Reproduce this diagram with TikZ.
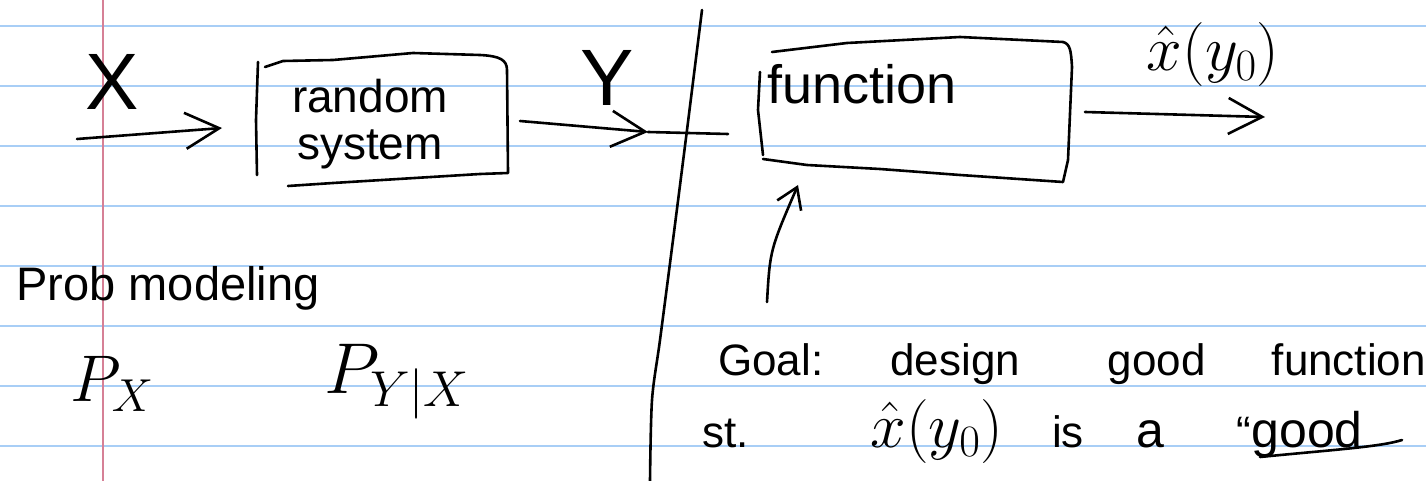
\RequirePackage{fix-cm}
\documentclass[tikz,border=0pt]{standalone}
\usepackage{fontspec}
\setmainfont{Liberation Sans}
\usetikzlibrary{arrows.meta,calc}
\definecolor{ruled}{RGB}{168,206,246}
\definecolor{marginline}{RGB}{214,128,150}
\tikzset{
  ink/.style={line width=2.6pt, line cap=round, line join=round, black},
  harrow/.style={ink, -{Straight Barb[length=34pt,width=36pt]}},
  smallarrow/.style={ink, -{Straight Barb[length=20pt,width=26pt]}},
  boxarea/.style={draw=none, inner sep=0pt, outer sep=0pt, rectangle},
}
\begin{document}
\begin{tikzpicture}[x=1pt,y={(0pt,-1pt)}]
\fill[white] (0,0) rectangle (1426,481);
\useasboundingbox (0,0) rectangle (1426,481);
% ruled paper
\foreach \yy in {26,86,...,446} \draw[ruled, line width=2pt] (0,\yy) -- (1426,\yy);
\draw[marginline, line width=2pt] (103,0) -- (103,481);

% box areas
\node[boxarea, minimum width=250pt, minimum height=120pt] (rsbox) at (382,118) {};
\node[boxarea, minimum width=310pt, minimum height=140pt] (fnbox) at (915,111) {};

% hand-drawn outlines
\draw[ink] (258,62) -- (256,120) -- (257,175);
\draw[ink] (265,67) -- (283,61) -- (333,60) -- (413,53) -- (480,55)
  .. controls (500,56) and (507,60) .. (507,70) -- (508,173) -- (480,174) -- (333,183) -- (288,186);
\draw[ink] (760,72) -- (758,110) -- (763,155);
\draw[ink] (772,52) -- (847,43) -- (960,37) -- (1063,42)
  .. controls (1070,44) and (1071,50) .. (1072,67) -- (1068,160) -- (1063,182)
  -- (960,175) -- (880,169) -- (807,165) -- (763,159);

% divider
\draw[ink] plot[smooth] coordinates {(702,10) (687,130) (673,240) (660,340) (652,400) (650,481)};

% texts
\node[font=\fontsize{80}{80}\selectfont] (xlab) at (112,82) {X};
\node[font=\fontsize{46}{47}\selectfont, align=center] (rs) at (370,124) {random\\system};
\node[font=\fontsize{80}{80}\selectfont] (ylab) at (607,78) {Y};
\node[font=\fontsize{54}{54}\selectfont] (fn) at (862,84) {function};
\node[font=\fontsize{64}{64}\selectfont] (xhat) at (1213,55) {$\hat{x}(y_0)$};
\node[font=\fontsize{47}{47}\selectfont, anchor=base west] (prob) at (13,300) {Prob modeling};
\node[font=\fontsize{66}{66}\selectfont] (px) at (112,384) {$P_X$};
\node[font=\fontsize{72}{72}\selectfont] (pyx) at (397,382) {$P_{Y|X}$};
\node[font=\fontsize{44}{44}\selectfont, anchor=base west, inner sep=0pt] (goal) at (718,375)
  {Goal:\hspace{67pt}design\hspace{88pt}good\hspace{66pt}function};
\node[font=\fontsize{44}{44}\selectfont, anchor=base west, inner sep=0pt] (st) at (702,447)
  {st.\hspace{122pt}{\fontsize{64}{64}\selectfont$\hat{x}(y_0)$}\hspace{49pt}is\hspace{53pt}{\fontsize{50}{50}\selectfont a}\hspace{72pt}“{\fontsize{50}{50}\selectfont good}};
\draw[ink] (1260,457) .. controls (1330,450) and (1380,447) .. (1402,440);

% connectors
\coordinate (xin) at (77,139);
\draw[harrow] (xin) -- ([shift={(-35,10)}]rsbox.west);
\coordinate (ytip) at (648,132);
\draw[harrow] ([shift={(13,3)}]rsbox.east) -- (ytip);
\draw[ink] (ytip) -- ([shift={(-32,23)}]fnbox.west);
\coordinate (xout) at (1265,117);
\draw[harrow] ([shift={(15,1)}]fnbox.east) -- (xout);
\coordinate (gs) at (767,302);
\draw[smallarrow] (gs) .. controls (770,250) .. ([shift={(38,4)}]fnbox.south west);
\end{tikzpicture}
\end{document}
